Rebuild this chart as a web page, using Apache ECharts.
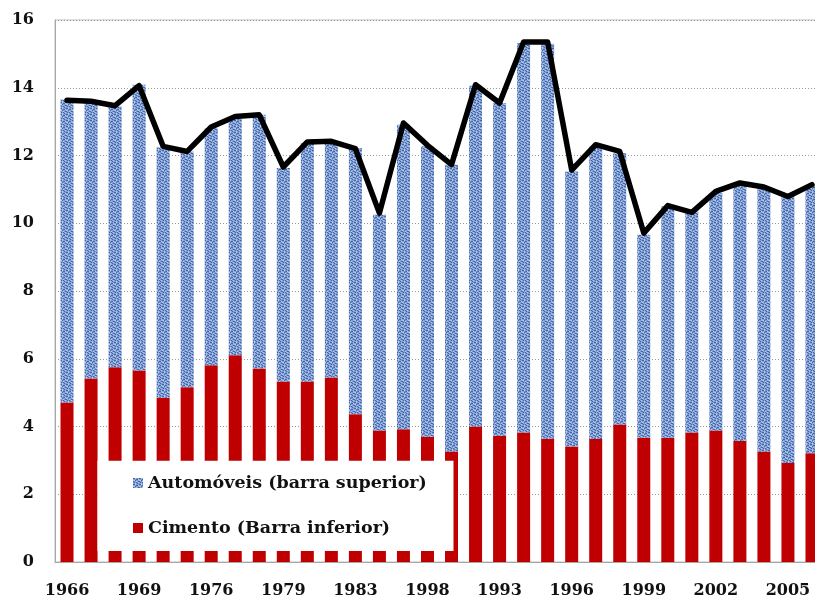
<!DOCTYPE html>
<html>
<head>
<meta charset="utf-8">
<script src="https://cdn.jsdelivr.net/npm/echarts@6/dist/echarts.min.js"></script>
<style>
    html, body { margin: 0; padding: 0; background: #fff; overflow: hidden; }
    #chart { width: 830px; height: 603px; }
</style>
</head>
<body>
<div id="chart"></div>
<script>
// Chart data
const categories = [
    '1966', '', '', '1969', '', '', '1976', '', '', '1979', '', '',
    '1983', '', '', '1998', '', '', '1993', '', '', '1996', '', '',
    '1999', '', '', '2002', '', '', '2005', ''
];

// Cimento (lower bar)
const cimento = [
    4.71, 5.42, 5.75, 5.65, 4.85, 5.16, 5.81, 6.10, 5.71, 5.33, 5.33, 5.45,
    4.36, 3.88, 3.92, 3.70, 3.26, 4.00, 3.73, 3.82, 3.64, 3.41, 3.63, 4.06,
    3.67, 3.67, 3.82, 3.88, 3.57, 3.26, 2.92, 3.21
];

// Automóveis (upper bar)
const automoveis = [
    8.94, 8.15, 7.70, 8.44, 7.39, 6.96, 7.00, 6.98, 7.49, 6.30, 7.04, 6.97,
    7.86, 6.37, 8.99, 8.57, 8.47, 10.06, 9.82, 11.50, 11.66, 8.12, 8.64, 8.01,
    5.99, 6.83, 6.53, 7.01, 7.62, 7.78, 7.87, 7.88
];

// Black total line
const totalLine = [
    13.63, 13.60, 13.47, 14.06, 12.27, 12.12, 12.84, 13.15, 13.20, 11.66, 12.40, 12.42,
    12.20, 10.30, 12.96, 12.30, 11.73, 14.09, 13.55, 15.35, 15.35, 11.57, 12.32, 12.12,
    9.71, 10.52, 10.32, 10.94, 11.19, 11.07, 10.79, 11.14
];

const yTicks = { min: 0, max: 16, interval: 2 };

// Textured blue fill like the original
function makeTexture() {
    const c = document.createElement('canvas');
    c.width = 6;
    c.height = 6;
    const ctx = c.getContext('2d');
    ctx.fillStyle = '#819fd8';
    ctx.fillRect(0, 0, 6, 6);
    const dark = [[0,0],[1,0],[3,1],[4,1],[2,2],[5,3],[0,3],[1,4],[3,4],[4,5]];
    const light = [[2,0],[5,1],[0,2],[3,3],[2,5],[5,4],[1,2]];
    ctx.fillStyle = '#46659f';
    dark.forEach(p => ctx.fillRect(p[0], p[1], 1, 1));
    ctx.fillStyle = '#b3c9f0';
    light.forEach(p => ctx.fillRect(p[0], p[1], 1, 1));
    return c;
}

const labelFont = {
    fontFamily: 'DejaVu Serif',
    fontWeight: 'bold',
    fontSize: 16,
    color: '#111'
};

const chart = echarts.init(document.getElementById('chart'));

const option = {
    animation: false,
    grid: {
        left: 55,
        top: 20,
        width: 769,
        height: 542,
        show: true,
        borderColor: '#bdbdbd',
        borderWidth: 1
    },
    xAxis: {
        type: 'category',
        data: categories,
        axisLine: { lineStyle: { color: '#a6a6a6' } },
        axisTick: { show: false },
        axisLabel: Object.assign({ interval: 0, margin: 21 }, labelFont)
    },
    yAxis: {
        type: 'value',
        min: yTicks.min,
        max: yTicks.max,
        interval: yTicks.interval,
        axisLine: { show: true, lineStyle: { color: '#a6a6a6' } },
        axisTick: { show: false },
        axisLabel: Object.assign({ margin: 21 }, labelFont),
        splitLine: { lineStyle: { color: '#999', type: [1, 2] } }
    },
    legend: {
        data: ['Automóveis (barra superior)', 'Cimento (Barra inferior)'],
        orient: 'vertical',
        left: 133,
        top: 473,
        padding: 0,
        itemWidth: 10,
        itemHeight: 10,
        itemGap: 25,
        icon: 'rect',
        z: 20,
        textStyle: Object.assign({}, labelFont, { fontSize: 17.5, lineHeight: 20 })
    },
    graphic: [{
        type: 'rect',
        z: 10,
        shape: { x: 97.5, y: 460.7, width: 356, height: 90.3 },
        style: { fill: '#fff' }
    }],
    series: [
        {
            name: 'Cimento (Barra inferior)',
            type: 'bar',
            stack: 'total',
            barWidth: 13,
            itemStyle: { color: '#c00000' },
            data: cimento
        },
        {
            name: 'Automóveis (barra superior)',
            type: 'bar',
            stack: 'total',
            barWidth: 13,
            itemStyle: { color: { image: makeTexture(), repeat: 'repeat' } },
            data: automoveis
        },
        {
            name: 'Total',
            type: 'line',
            symbol: 'none',
            z: 5,
            lineStyle: { color: '#000', width: 5.5, join: 'round', cap: 'round' },
            data: totalLine
        }
    ]
};

chart.setOption(option);
</script>
</body>
</html>
